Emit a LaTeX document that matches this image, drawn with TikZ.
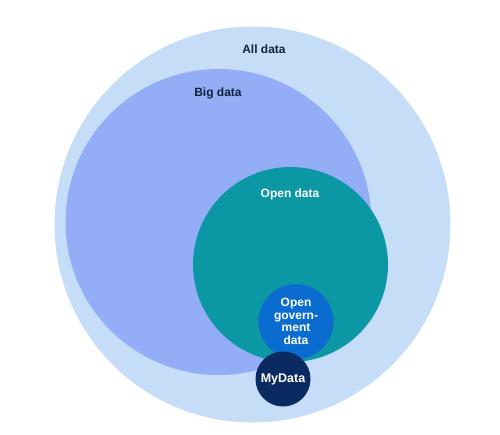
\documentclass[tikz,border=0pt]{standalone}
\usepackage{fontspec}
\setmainfont{Liberation Sans}
\definecolor{alld}{HTML}{C6DDF7}
\definecolor{bigd}{HTML}{93AEF6}
\definecolor{opend}{HTML}{0B98A4}
\definecolor{govd}{HTML}{0B6CD0}
\definecolor{myd}{HTML}{0C2A62}
\definecolor{darktxt}{HTML}{14213D}
\begin{document}
\begin{tikzpicture}[x=1pt,y=-1pt,
  disc/.style={circle,inner sep=0pt,draw=none},
  lbl/.style={font=\fontsize{12}{12.6}\selectfont\bfseries,inner sep=0pt,align=center}]
\fill[white] (0,0) rectangle (500,434);
\useasboundingbox (0,0) rectangle (500,434);
\node[disc,fill=alld,minimum size=396pt] (all) at (252.5,224.5) {};
\node[disc,fill=bigd,minimum size=306pt] (big) at (218.5,222) {};
\node[disc,fill=opend,minimum size=195pt] (open) at (290.5,264.5) {};
\node[disc,fill=govd,minimum size=75pt,lbl,text=white] (gov) at (296,321.5) {Open\\govern-\\ment\\data};
\node[disc,fill=myd,minimum size=55pt,lbl,text=white,font=\fontsize{12.5}{13}\selectfont\bfseries] (my) at (283,379) {MyData};
\node[lbl,text=darktxt] (alllbl) at (264,49) {All data};
\node[lbl,text=darktxt] (biglbl) at (218,93) {Big data};
\node[lbl,text=white] (openlbl) at (290,194) {Open data};
\end{tikzpicture}
\end{document}
